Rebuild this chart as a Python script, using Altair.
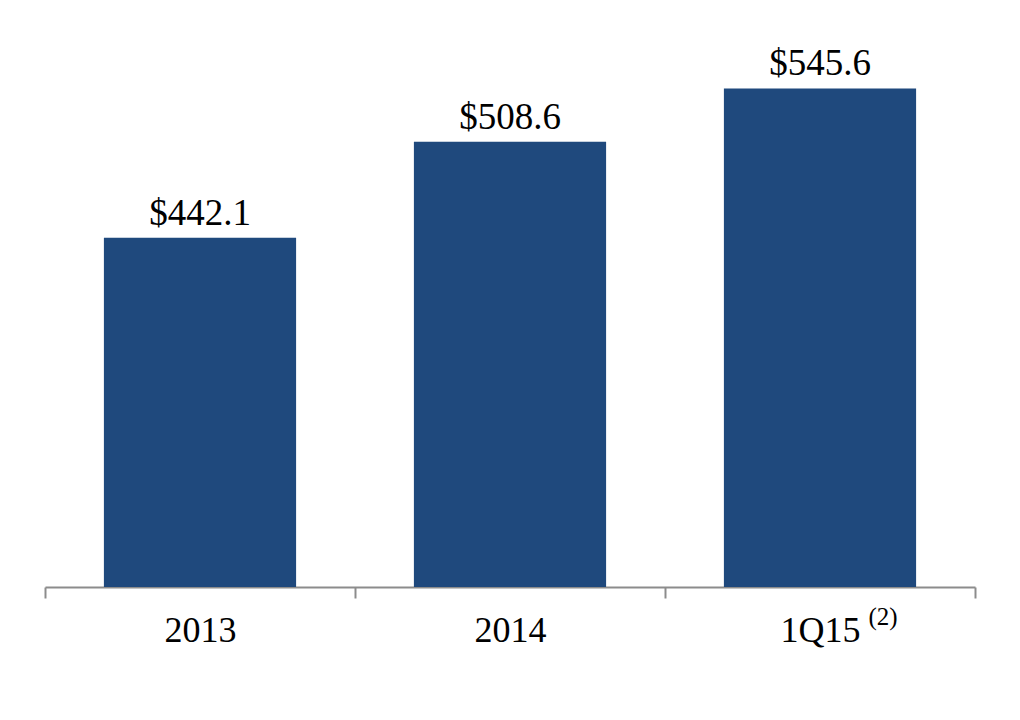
import altair as alt
import pandas as pd

categories = ["2013", "2014", "1Q15"]
values = [442.1, 508.6, 545.6]
labels = ["$442.1", "$508.6", "$545.6"]
footnote_cat = ["1Q15"]
footnote_txt = ["(2)"]

df = pd.DataFrame({"cat": categories, "val": values, "lab": labels, "base": [200] * 3})
fn = pd.DataFrame({"cat": footnote_cat, "txt": footnote_txt})

FONT = "Liberation Serif"
xscale = alt.Scale(domain=categories, paddingInner=0, paddingOuter=0)
yscale = alt.Scale(domain=[200, 600], zero=False, nice=False)

x_enc = alt.X(
    "cat:N",
    scale=xscale,
    sort=categories,
    title=None,
    axis=alt.Axis(
        labelAngle=0,
        labelFont=FONT,
        labelFontSize=36,
        labelColor="black",
        labelPadding=15,
        domainColor="#8c8c8c",
        domainWidth=2,
        tickColor="#8c8c8c",
        tickWidth=2,
        tickSize=11,
        tickBand="extent",
        grid=False,
    ),
)

bars = alt.Chart(df).mark_bar(color="#1F497D", width={"band": 0.62}).encode(
    x=x_enc,
    y=alt.Y("val:Q", scale=yscale, axis=None),
    y2="base:Q",
)

text = alt.Chart(df).mark_text(
    font=FONT, fontSize=37, color="black", baseline="alphabetic", dy=-13
).encode(
    x=alt.X("cat:N", scale=xscale, sort=categories),
    y=alt.Y("val:Q", scale=yscale),
    text="lab:N",
)

foot = alt.Chart(fn).mark_text(
    font=FONT, fontSize=25, color="black", baseline="top", dx=63, dy=18
).encode(
    x=alt.X("cat:N", scale=xscale, sort=categories),
    y=alt.datum(200),
    text="txt:N",
)

chart = (
    alt.layer(bars, text, foot)
    .properties(
        width=930,
        height=577,
        autosize=alt.AutoSizeParams(type="none"),
        padding={"left": 37, "top": 2, "right": 20, "bottom": 100},
    )
    .configure_view(stroke=None)
)

chart.save("out.html", embed_options={"renderer": "svg", "actions": False})
